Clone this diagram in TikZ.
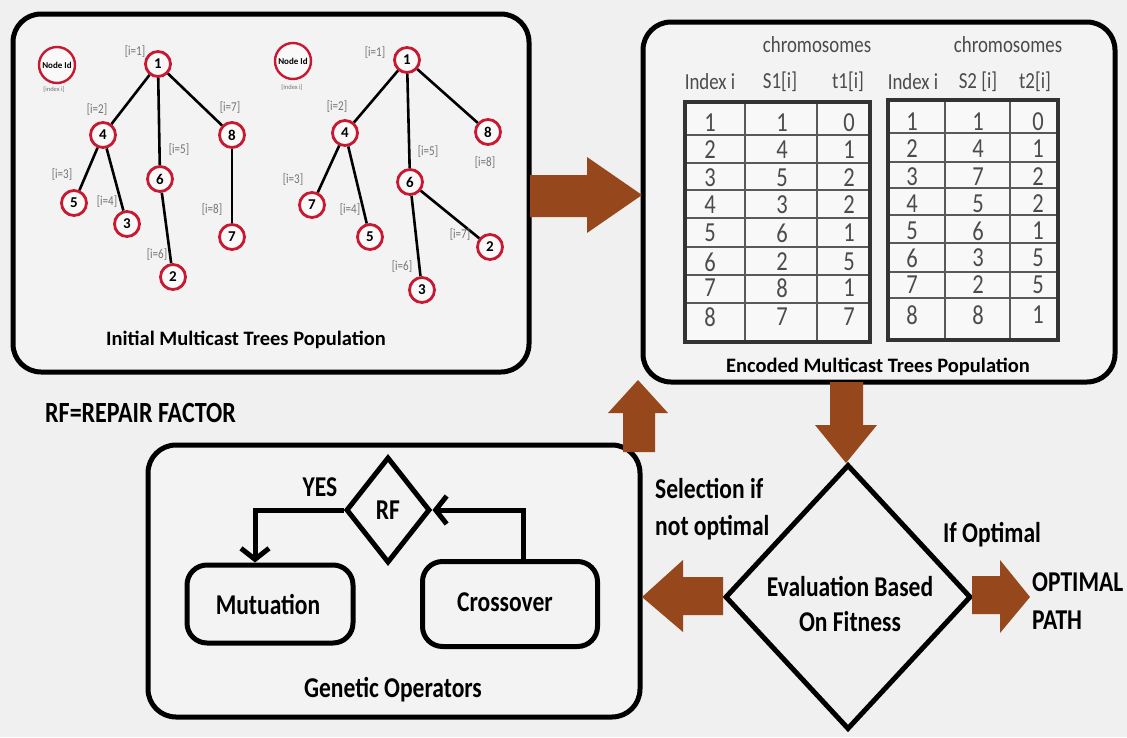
\documentclass[tikz,border=0pt]{standalone}
\usepackage{fontspec}
\setmainfont{Carlito}
\newfontfamily\tallfont[FakeStretch=0.82]{Carlito}
\usetikzlibrary{shapes.geometric,arrows.meta}
\definecolor{brownarrow}{RGB}{150,72,28}
\definecolor{nodered}{RGB}{200,25,50}
\definecolor{bggray}{RGB}{240,240,240}
\definecolor{panelgray}{RGB}{243,243,243}
\definecolor{labelgray}{RGB}{115,115,115}
\definecolor{numgray}{RGB}{75,75,75}

\tikzset{
  panel/.style={draw=black, line width=5pt, rounded corners=28pt, fill=panelgray},
  opbox/.style={draw=black, line width=5pt, rounded corners=20pt, fill=panelgray},
  tnode/.style={circle, draw=nodered, line width=2.8pt, fill=white!50!panelgray,
    minimum size=25pt, inner sep=0pt, font=\fontsize{15}{15}\selectfont\bfseries},
  legendnode/.style={circle, draw=nodered, line width=2.4pt, fill=white!50!panelgray,
    minimum size=36pt, inner sep=0pt, font=\fontsize{9}{9}\selectfont\bfseries},
  tedge/.style={draw=black, line width=2.6pt},
  ilabel/.style={text=labelgray, font=\tallfont\fontsize{13.5}{13.5}\selectfont, inner sep=0pt},
  tinylabel/.style={text=labelgray, font=\fontsize{6.5}{6.5}\selectfont, inner sep=0pt},
  boldlbl/.style={font=\tallfont\fontsize{28.7}{28.7}\selectfont\bfseries, inner sep=0pt},
  titlelbl/.style={font=\fontsize{20.5}{20.5}\selectfont\bfseries, inner sep=0pt},
  headlbl/.style={text=numgray, font=\tallfont\fontsize{23}{23}\selectfont, inner sep=0pt},
  numlbl/.style={text=numgray, font=\tallfont\fontsize{27.5}{27.5}\selectfont, inner sep=0pt},
  blockarrow/.style={fill=brownarrow, draw=none},
  flowline/.style={draw=black, line width=5pt},
  barb/.style={-{Straight Barb[length=11pt,width=28pt,line width=5pt]}},
}

\begin{document}
\begin{tikzpicture}[x=1pt,y=-1pt]
\useasboundingbox (0,0) rectangle (1127,737);
\fill[bggray] (0,0) rectangle (1127,737);

% ---------- panels ----------
\draw[panel] (13,14) rectangle (529,372);
\draw[panel] (643,22) rectangle (1115,382);
\draw[panel] (148,445) rectangle (640,717);

% ---------- initial population: first tree ----------
\node[legendnode] (lega) at (57,65) {Node Id};
\node[tinylabel] (legai) at (54,90) {[index i]};

\node[tnode] (a1) at (158,64) {1};
\node[tnode] (a4) at (103,135) {4};
\node[tnode] (a8) at (232,135) {8};
\node[tnode] (a6) at (160,179) {6};
\node[tnode] (a5) at (74,203) {5};
\node[tnode] (a3) at (127,224) {3};
\node[tnode] (a7) at (232,237) {7};
\node[tnode] (a2) at (173,277) {2};

\draw[tedge] (a1) -- (a4);
\draw[tedge] (a1) -- (a6);
\draw[tedge] (a1) -- (a8);
\draw[tedge] (a4) -- (a5);
\draw[tedge] (a4) -- (a3);
\draw[tedge] (a6) -- (a2);
\draw[tedge] (a8) -- (a7);

\node[ilabel] (la1) at (135,52) {[i=1]};
\node[ilabel] (la2) at (97,110) {[i=2]};
\node[ilabel] (la7) at (230,108) {[i=7]};
\node[ilabel] (la5) at (179,150) {[i=5]};
\node[ilabel] (la3) at (62,175) {[i=3]};
\node[ilabel] (la4) at (107,202) {[i=4]};
\node[ilabel] (la8) at (212,210) {[i=8]};
\node[ilabel] (la6) at (157,255) {[i=6]};

% ---------- initial population: second tree ----------
\node[legendnode] (legb) at (293,61) {Node Id};
\node[tinylabel] (legbi) at (292,88) {[Index i]};

\node[tnode] (b1) at (407,60) {1};
\node[tnode] (b4) at (345,133) {4};
\node[tnode] (b8) at (488,132) {8};
\node[tnode] (b6) at (410,182) {6};
\node[tnode] (b7) at (312,205) {7};
\node[tnode] (b5) at (370,237) {5};
\node[tnode] (b2) at (490,247) {2};
\node[tnode] (b3) at (422,290) {3};

\draw[tedge] (b1) -- (b4);
\draw[tedge] (b1) -- (b6);
\draw[tedge] (b1) -- (b8);
\draw[tedge] (b4) -- (b7);
\draw[tedge] (b4) -- (b5);
\draw[tedge] (b6) -- (b3);
\draw[tedge] (b6) -- (b2);

\node[ilabel] (lb1) at (375,53) {[i=1]};
\node[ilabel] (lb2) at (337,107) {[i=2]};
\node[ilabel] (lb8) at (485,163) {[i=8]};
\node[ilabel] (lb5) at (428,152) {[i=5]};
\node[ilabel] (lb3) at (293,180) {[i=3]};
\node[ilabel] (lb4) at (350,210) {[i=4]};
\node[ilabel] (lb7) at (460,235) {[i=7]};
\node[ilabel] (lb6) at (402,267) {[i=6]};

\node[titlelbl] (inittitle) at (246,340) {Initial Multicast Trees Population};

% ---------- encoded population: tables ----------
\node[headlbl] (chromA) at (817,45) {chromosomes};
\node[headlbl] (chromB) at (1008,45) {chromosomes};

\node[headlbl] (hA1) at (710,82) {Index i};
\node[headlbl] (hA2) at (780,82) {S1[i]};
\node[headlbl] (hA3) at (848,82) {t1[i]};
\node[headlbl] (hB1) at (913,82) {Index i};
\node[headlbl] (hB2) at (978,82) {S2 [i]};
\node[headlbl] (hB3) at (1035,82) {t2[i]};

% table 1 grid
\fill[white!40!panelgray] (685,102) rectangle (870,342);
\foreach \yy in {135,163,190,218,247,275,303}
  \draw[line width=1.3pt, draw=gray!70!black] (685,\yy) -- (870,\yy);
\draw[line width=1.3pt, draw=gray!70!black] (745,102) -- (745,342);
\draw[line width=1.3pt, draw=gray!70!black] (817,102) -- (817,342);
\draw[line width=4pt, draw=black!80] (685,102) rectangle (870,342);

% table 2 grid
\fill[white!40!panelgray] (888,100) rectangle (1058,340);
\foreach \yy in {133,162,188,215,243,272,298}
  \draw[line width=1.3pt, draw=gray!70!black] (888,\yy) -- (1058,\yy);
\draw[line width=1.3pt, draw=gray!70!black] (945,100) -- (945,340);
\draw[line width=1.3pt, draw=gray!70!black] (1010,100) -- (1010,340);
\draw[line width=4pt, draw=black!80] (888,100) rectangle (1058,340);

% table 1 values: index, S1, t1
\foreach \yy/\s/\t [count=\k] in {123/1/0,150/4/1,178/5/2,205/3/2,233/6/1,262/2/5,288/8/1,317/7/7}{
  \node[numlbl] (tAi\k) at (710,\yy) {\k};
  \node[numlbl] (tAs\k) at (782,\yy) {\s};
  \node[numlbl] (tAt\k) at (849,\yy) {\t};
}
% table 2 values: index, S2, t2
\foreach \yy/\s/\t [count=\k] in {122/1/0,149/4/1,177/7/2,204/5/2,231/6/1,258/3/5,285/2/5,315/8/1}{
  \node[numlbl] (tBi\k) at (912,\yy) {\k};
  \node[numlbl] (tBs\k) at (978,\yy) {\s};
  \node[numlbl] (tBt\k) at (1038,\yy) {\t};
}

\node[titlelbl] (enctitle) at (878,367) {Encoded Multicast Trees Population};

% ---------- legend ----------
\node[boldlbl, anchor=west, font=\tallfont\fontsize{29.3}{29.3}\selectfont\bfseries] (rflegend) at (45,413) {RF=REPAIR FACTOR};

% ---------- genetic operators ----------
\node[diamond, draw=black, line width=5pt, fill=panelgray, minimum width=84pt,
  minimum height=106pt, inner sep=0pt, font=\tallfont\fontsize{28.7}{28.7}\selectfont\bfseries] (rf) at (388,510) {RF};
\node[opbox, minimum width=166pt, minimum height=78pt] (mut) at (270,604) {};
\node[boldlbl] (muttext) at (268,605) {Mutuation};
\node[opbox, minimum width=175pt, minimum height=85pt] (cross) at (510,604) {};
\node[boldlbl] (crosstext) at (505,602) {Crossover};
\node[boldlbl] (yes) at (320,487) {YES};

\coordinate (yesbend) at (255,510);
\coordinate (crossup) at (523,510);
\draw[flowline, barb] (rf.west) -- (yesbend) -- (yesbend |- mut.north);
\draw[flowline, barb] (crossup |- cross.north) -- (crossup) -- (rf.east);

\node[boldlbl] (gentitle) at (393,690) {Genetic Operators};

% ---------- evaluation ----------
\node[diamond, draw=black, line width=5pt, fill=bggray, minimum width=246pt,
  minimum height=265pt, inner sep=0pt] (eval) at (848,597) {};
\node[boldlbl, align=center, font=\tallfont\fontsize{28.7}{35}\selectfont\bfseries] (evaltext) at (850,604)
  {Evaluation Based\\On Fitness};

\node[boldlbl, align=left, anchor=west, font=\tallfont\fontsize{28.7}{37}\selectfont\bfseries] (seltext) at (655,509)
  {Selection if\\not optimal};
\node[boldlbl] (ifopt) at (992,535) {If Optimal};
\node[boldlbl, align=left, anchor=west, font=\tallfont\fontsize{28.7}{38}\selectfont\bfseries] (opttext) at (1032,601)
  {OPTIMAL\\PATH};

% ---------- block arrows ----------
% initial -> encoded
\fill[blockarrow] (530,175) -- (587,175) -- (587,157) -- (642,195) -- (587,233) -- (587,217) -- (530,217) -- cycle;
% genetic operators -> encoded
\fill[blockarrow] (623,452) -- (623,413) -- (608,413) -- (638,380) -- (668,413) -- (655,413) -- (655,452) -- cycle;
% encoded -> evaluation
\fill[blockarrow] (830,382) -- (863,382) -- (863,425) -- (877,425) -- (846,463) -- (815,425) -- (830,425) -- cycle;
% evaluation -> genetic operators
\fill[blockarrow] (723,577) -- (683,577) -- (683,560) -- (642,597) -- (683,632) -- (683,615) -- (723,615) -- cycle;
% evaluation -> optimal path
\fill[blockarrow] (972,576) -- (1000,576) -- (1000,560) -- (1030,597) -- (1000,633) -- (1000,614) -- (972,614) -- cycle;

\end{tikzpicture}
\end{document}
